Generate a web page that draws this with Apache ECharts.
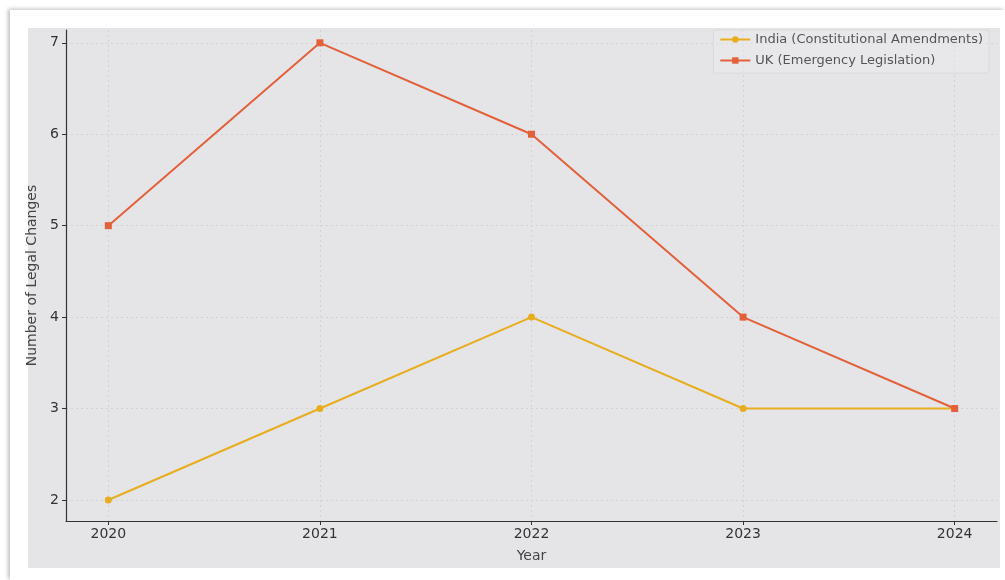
<!DOCTYPE html>
<html>
<head>
<meta charset="utf-8">
<script src="https://cdn.jsdelivr.net/npm/echarts@6/dist/echarts.min.js"></script>
<style>
  html, body { margin: 0; padding: 0; background: #fff; }
  #card { position: absolute; left: 10px; top: 10px; width: 995px; height: 570px; background: #fff;
          box-shadow: -2px -1px 4px rgba(0,0,0,0.25); }
  #paper { position: absolute; left: 28px; top: 28px; width: 972px; height: 540px; background: #e5e5e7; }
  #chart { position: absolute; left: 0; top: 0; width: 1005px; height: 580px; }
</style>
</head>
<body>
<div id="card"></div>
<div id="paper"></div>
<div id="chart"></div>
<script>
// data
var years = [2020, 2021, 2022, 2023, 2024]
var indiaValues = [2, 3, 4, 3, 3]
var ukValues = [5, 7, 6, 4, 3]
var yTicks = [2, 3, 4, 5, 6, 7]
var seriesNames = ['India (Constitutional Amendments)', 'UK (Emergency Legislation)']

var indiaColor = '#e8ad1f'
var ukColor = '#e2603a'

function pairs(xs, ys) {
  return xs.map(function (x, i) { return [x, ys[i]] })
}

var chart = echarts.init(document.getElementById('chart'))
var textFont = '"DejaVu Sans", sans-serif'

var option = {
  backgroundColor: 'transparent',
  animation: false,
  grid: { left: 66, right: 8, top: 30, bottom: 59 },
  legend: {
    right: 16, top: 30,
    orient: 'vertical',
    itemWidth: 30, itemHeight: 8, itemGap: 8,
    padding: [3, 6, 6, 6],
    borderColor: '#dadada', borderWidth: 1, borderRadius: 2,
    backgroundColor: 'rgba(235,235,237,0.5)',
    textStyle: { fontFamily: textFont, fontSize: 13, color: '#555' },
    data: seriesNames
  },
  xAxis: {
    type: 'value',
    min: 2019.8, max: 2024.2,
    name: 'Year', nameLocation: 'middle', nameGap: 28,
    nameTextStyle: { fontFamily: textFont, fontSize: 14, color: '#444' },
    axisLine: { lineStyle: { color: '#333', width: 1.2 } },
    axisTick: { show: true, length: 4, customValues: years, lineStyle: { color: '#333' } },
    axisLabel: { customValues: years, margin: 6, fontFamily: textFont, fontSize: 14, color: '#333',
                 formatter: function (v) { return String(v) } },
    splitLine: { show: true, lineStyle: { color: '#d2d2d5', type: [2, 3] } }
  },
  yAxis: {
    type: 'value',
    min: 1.77, max: 7.14,
    name: 'Number of Legal Changes', nameLocation: 'middle', nameGap: 25,
    nameTextStyle: { fontFamily: textFont, fontSize: 14, color: '#444' },
    axisLine: { show: true, lineStyle: { color: '#333', width: 1.2 } },
    axisTick: { show: true, length: 4, customValues: yTicks, lineStyle: { color: '#333' } },
    axisLabel: { customValues: yTicks, margin: 7, fontFamily: textFont, fontSize: 14, color: '#333' },
    splitLine: { show: true, lineStyle: { color: '#d2d2d5', type: [2, 3] } }
  },
  series: [
    {
      name: seriesNames[0], type: 'line',
      data: pairs(years, indiaValues),
      symbol: 'circle', symbolSize: 7,
      lineStyle: { color: indiaColor, width: 2 },
      itemStyle: { color: indiaColor }
    },
    {
      name: seriesNames[1], type: 'line',
      data: pairs(years, ukValues),
      symbol: 'rect', symbolSize: 7,
      lineStyle: { color: ukColor, width: 2 },
      itemStyle: { color: ukColor }
    }
  ]
}
chart.setOption(option)
</script>
</body>
</html>
